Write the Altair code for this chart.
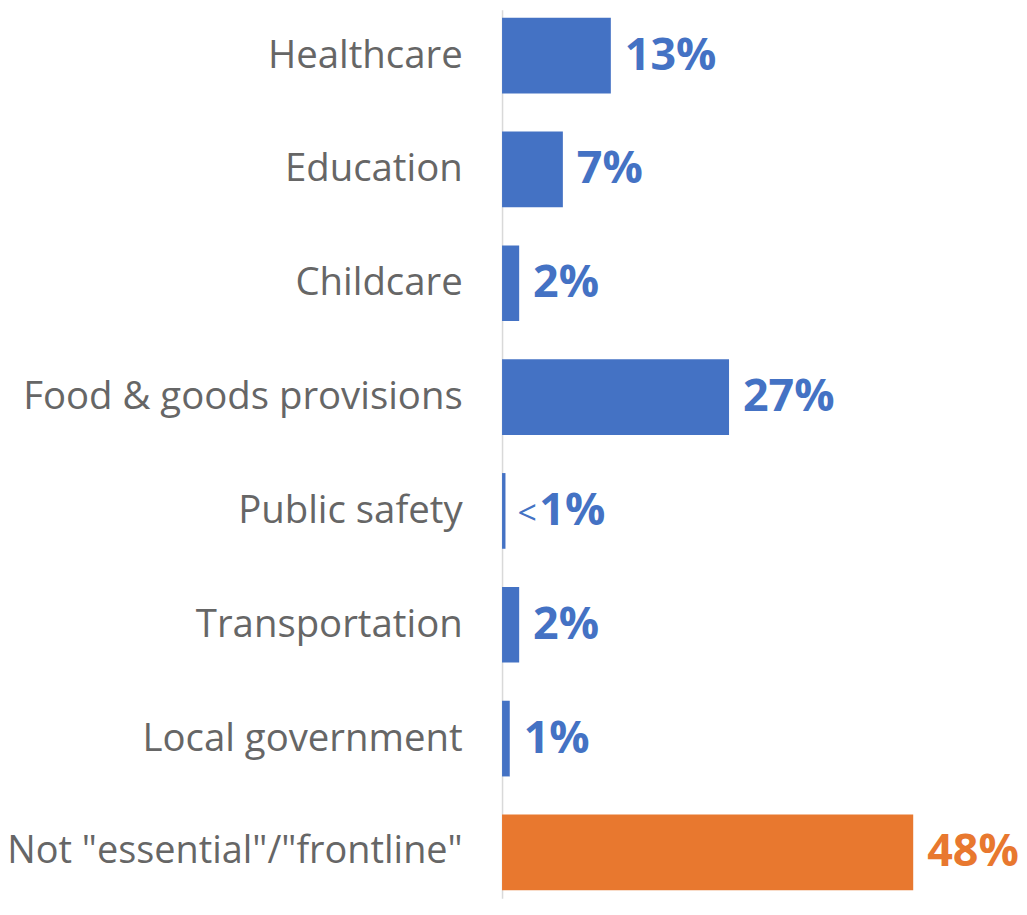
import altair as alt
import pandas as pd

categories = ["Healthcare", "Education", "Childcare", "Food & goods provisions",
              "Public safety", "Transportation", "Local government",
              'Not "essential"/"frontline"']
values = [12.7, 7.1, 2.0, 26.5, 0.4, 2.0, 0.9, 48.0]
labels = ["13%", "7%", "2%", "27%", "1%", "2%", "1%", "48%"]
prefixes = ["", "", "", "", "<", "", "", ""]
groups = ["essential"] * 7 + ["not"]

df = pd.DataFrame({"category": categories, "value": values, "label": labels,
                   "prefix": prefixes, "group": groups})

color = alt.Color("group:N", scale=alt.Scale(domain=["essential", "not"],
                                             range=["#4472C4", "#E8782F"]), legend=None)

y = alt.Y("category:N", sort=categories, title=None,
          scale=alt.Scale(paddingInner=0.335, paddingOuter=0.07),
          axis=alt.Axis(domainColor="#D9D9D9", domainWidth=1.5, ticks=False,
                        labelFont="Open Sans",
                        labelFontSize={"condition": {"test": "substring(datum.value, 0, 3) == 'Not'",
                                                     "value": 38.0},
                                       "value": 38.5},
                        labelColor="#666666",
                        labelPadding=40, labelLimit=600))
x = alt.X("value:Q", title=None, scale=alt.Scale(domain=[0, 60.35], nice=False),
          axis=None)

base = alt.Chart(df)
bars = base.mark_bar().encode(x=x, y=y, color=color)
text_main = base.transform_filter("datum.prefix == ''").mark_text(
    align="left", baseline="middle", dx=14, font="Open Sans", fontWeight="bold",
    fontSize=45).encode(x=x, y=y, text="label:N", color=color)
text_lt = base.transform_filter("datum.prefix != ''").mark_text(
    align="left", baseline="middle", dx=34, font="Open Sans", fontWeight="bold",
    fontSize=45).encode(x=x, y=y, text="label:N", color=color)
text_pre = base.transform_filter("datum.prefix != ''").mark_text(
    align="left", baseline="middle", dx=12, dy=4, font="Open Sans",
    fontSize=34).encode(x=x, y=y, text="prefix:N", color=color)

chart = alt.layer(bars, text_main, text_lt, text_pre).properties(
    width=519, height=892,
    autosize=alt.AutoSizeParams(type="none"),
    padding={"left": 496, "top": 0, "right": 0, "bottom": 0},
).configure_view(stroke=None)

chart.save("out.html", embed_options={"renderer": "svg", "actions": False})
